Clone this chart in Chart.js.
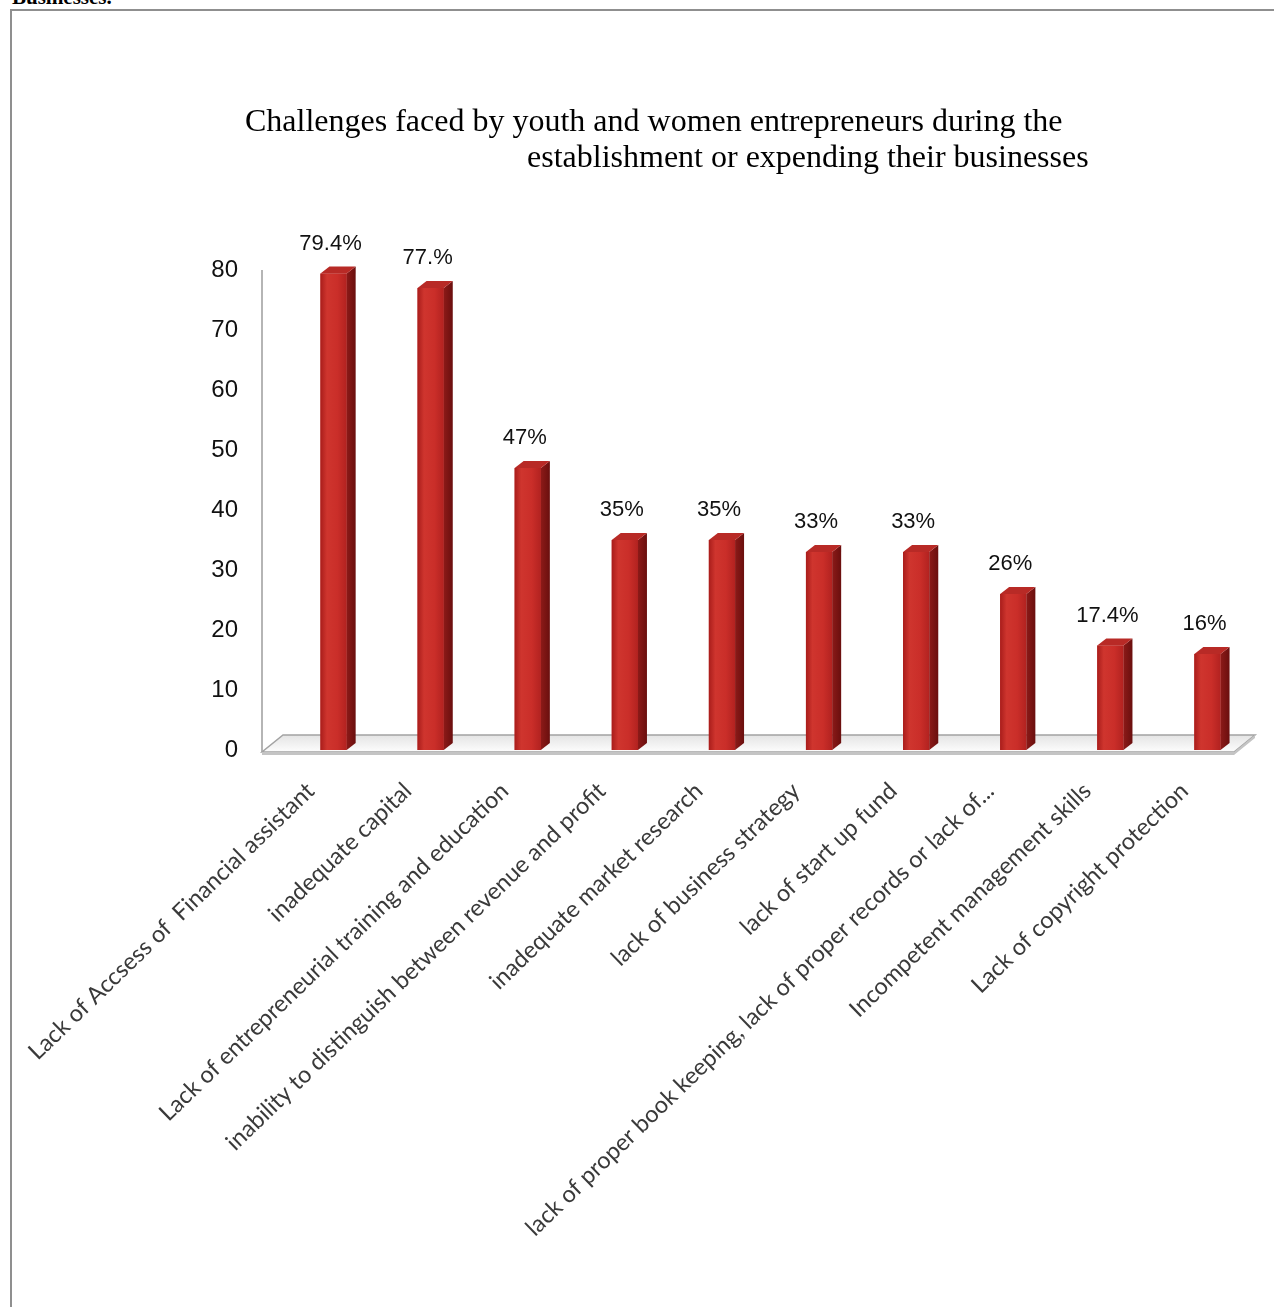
<!DOCTYPE html>
<html>
<head>
<meta charset="utf-8">
<script src="https://cdn.jsdelivr.net/npm/chart.js@4.4.1/dist/chart.umd.min.js"></script>
<style>
  html, body { margin: 0; padding: 0; background: #fff; overflow: hidden; }
  #page { position: relative; width: 1274px; height: 1307px; }
  #heading { position: absolute; left: 12px; top: -15px; line-height: 21px; font: bold 21px "Liberation Serif", serif; color: #000; }
  #frame { position: absolute; left: 10px; top: 9px; width: 1290px; height: 1320px; border: 2px solid #8f8f8f; box-sizing: border-box; }
  #wrap { position: absolute; left: 0; top: 0; width: 1274px; height: 1307px; }
</style>
</head>
<body>
<div id="page">
  <div id="heading">Businesses.</div>
  <div id="frame"></div>
  <div id="wrap"><canvas id="grafico" width="1274" height="1307"></canvas></div>
</div>
<script>
// Dados do gráfico
const categorias = [
  'Lack of Accsess of  Financial assistant',
  'inadequate capital',
  'Lack of entrepreneurial training and education',
  'inability to distinguish between revenue and profit',
  'inadequate market research',
  'lack of business strategy',
  'lack of start up fund',
  'lack of proper book keeping, lack of proper records or lack of...',
  'Incompetent management skills',
  'Lack of copyright protection'
];
const valores = [79.4, 77, 47, 35, 35, 33, 33, 26, 17.4, 16];
const rotulos = ['79.4%', '77.%', '47%', '35%', '35%', '33%', '33%', '26%', '17.4%', '16%'];
const ticksY = [0, 10, 20, 30, 40, 50, 60, 70, 80];
const tituloLinhas = [
  'Challenges faced by youth and women entrepreneurs during the',
  'establishment or expending their businesses'
];

// profundidade das barras e do piso
const PROF_X = 9, PROF_Y = 7;
const PISO_X = 21, PISO_Y = 17;

const pisoPlugin = {
  id: 'piso',
  beforeDatasetsDraw(chart) {
    const { ctx, chartArea, scales } = chart;
    const y0 = scales.y.getPixelForValue(0);
    const tras = y0 - 15, frente = tras + PISO_Y;
    const l = chartArea.left - 2, r = chartArea.right - 1;
    ctx.save();
    // parede esquerda (eixo)
    ctx.strokeStyle = '#b5b5b5';
    ctx.lineWidth = 2;
    ctx.beginPath();
    ctx.moveTo(l - PISO_X, scales.y.getPixelForValue(80));
    ctx.lineTo(l - PISO_X, frente);
    ctx.stroke();
    // piso
    const g = ctx.createLinearGradient(0, tras, 0, frente);
    g.addColorStop(0, '#e4e4e4');
    g.addColorStop(1, '#fdfdfd');
    ctx.fillStyle = g;
    ctx.beginPath();
    ctx.moveTo(l, tras);
    ctx.lineTo(r, tras);
    ctx.lineTo(r - PISO_X, frente);
    ctx.lineTo(l - PISO_X, frente);
    ctx.closePath();
    ctx.fill();
    ctx.strokeStyle = '#a3a3a3';
    ctx.lineWidth = 1.5;
    ctx.stroke();
    // borda frontal do piso
    ctx.fillStyle = '#c4c4c4';
    ctx.beginPath();
    ctx.moveTo(l - PISO_X, frente);
    ctx.lineTo(r - PISO_X, frente);
    ctx.lineTo(r, tras);
    ctx.lineTo(r, tras + 3);
    ctx.lineTo(r - PISO_X, frente + 3);
    ctx.lineTo(l - PISO_X, frente + 3);
    ctx.closePath();
    ctx.fill();
    ctx.restore();
  }
};

const barras3dPlugin = {
  id: 'barras3d',
  afterDatasetsDraw(chart) {
    const { ctx } = chart;
    const meta = chart.getDatasetMeta(0);
    ctx.save();
    meta.data.forEach((bar, i) => {
      const { x, y, base, width } = bar.getProps(['x', 'y', 'base', 'width'], true);
      const l = x - width / 2, r = x + width / 2;
      // frente
      const gf = ctx.createLinearGradient(l, 0, r, 0);
      gf.addColorStop(0, '#a91d1b');
      gf.addColorStop(0.25, '#cf352e');
      gf.addColorStop(0.65, '#ca2e29');
      gf.addColorStop(1, '#b22220');
      ctx.fillStyle = gf;
      ctx.fillRect(l, y, width, base - y);
      // lateral
      const gl = ctx.createLinearGradient(r, 0, r + PROF_X, 0);
      gl.addColorStop(0, '#8c1a18');
      gl.addColorStop(1, '#6a0f0e');
      ctx.fillStyle = gl;
      ctx.beginPath();
      ctx.moveTo(r, y);
      ctx.lineTo(r + PROF_X, y - PROF_Y);
      ctx.lineTo(r + PROF_X, base - PROF_Y);
      ctx.lineTo(r, base);
      ctx.closePath();
      ctx.fill();
      // topo
      ctx.fillStyle = '#b82a26';
      ctx.beginPath();
      ctx.moveTo(l, y);
      ctx.lineTo(l + PROF_X, y - PROF_Y);
      ctx.lineTo(r + PROF_X, y - PROF_Y);
      ctx.lineTo(r, y);
      ctx.closePath();
      ctx.fill();
    });
    ctx.restore();
  }
};

const rotulosPlugin = {
  id: 'rotulos',
  afterDatasetsDraw(chart) {
    const { ctx } = chart;
    const meta = chart.getDatasetMeta(0);
    ctx.save();
    ctx.font = '22px "Liberation Sans", Arial, sans-serif';
    ctx.fillStyle = '#111';
    ctx.textAlign = 'center';
    ctx.textBaseline = 'middle';
    meta.data.forEach((bar, i) => {
      ctx.fillText(rotulos[i], bar.x - 3, bar.y - 30);
    });
    ctx.restore();
  }
};

const tituloPlugin = {
  id: 'titulo',
  afterDraw(chart) {
    const { ctx } = chart;
    ctx.save();
    ctx.font = '32px "Liberation Serif", "Times New Roman", serif';
    ctx.fillStyle = '#000';
    ctx.textBaseline = 'alphabetic';
    ctx.fillText(tituloLinhas[0], 245, 131);
    ctx.fillText(tituloLinhas[1], 527, 167);
    ctx.restore();
  }
};

const ctx = document.getElementById('grafico').getContext('2d');
new Chart(ctx, {
  type: 'bar',
  data: {
    labels: categorias,
    datasets: [{
      data: valores,
      backgroundColor: '#c42b27',
      borderWidth: 0,
      categoryPercentage: 1,
      barPercentage: 0.27
    }]
  },
  options: {
    responsive: false,
    animation: false,
    devicePixelRatio: 1,
    layout: { padding: { top: 270, left: 205, right: 18, bottom: 0 } },
    plugins: {
      legend: { display: false },
      title: { display: false },
      tooltip: { enabled: false }
    },
    scales: {
      x: {
        grid: { display: false, drawTicks: false },
        border: { display: false },
        ticks: {
          autoSkip: false,
          minRotation: 44,
          maxRotation: 44,
          labelOffset: -23,
          padding: 27,
          color: '#3a3a3a',
          font: { family: 'Lato, sans-serif', size: 23.5 }
        },
        afterFit(scale) {
          scale.height = 557;
          scale.paddingLeft = 0;
          scale.paddingRight = 0;
        }
      },
      y: {
        min: 0,
        max: 80,
        grid: { display: false, drawTicks: false },
        border: { display: false },
        afterBuildTicks(scale) {
          scale.ticks = ticksY.map(v => ({ value: v }));
        },
        ticks: {
          padding: 47,
          color: '#111',
          font: { family: '"Liberation Sans", Arial, sans-serif', size: 24 }
        },
        afterFit(scale) {
          scale.width = 80;
        }
      }
    }
  },
  plugins: [pisoPlugin, barras3dPlugin, rotulosPlugin, tituloPlugin]
});
</script>
</body>
</html>
